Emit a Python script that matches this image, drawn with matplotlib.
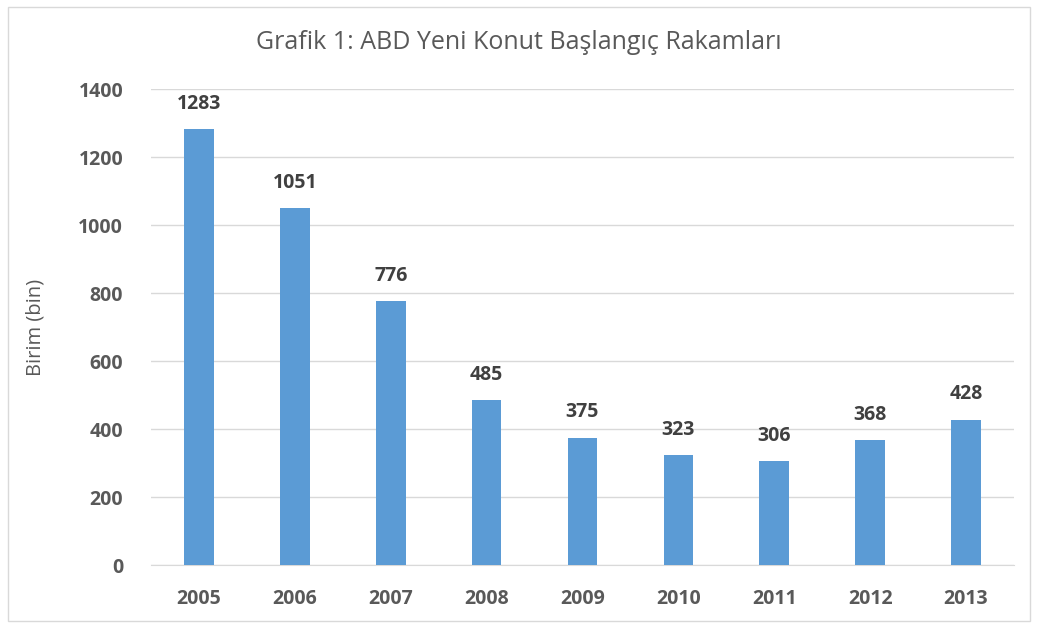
import matplotlib.pyplot as plt
from matplotlib.patches import Rectangle

years = ["2005", "2006", "2007", "2008", "2009", "2010", "2011", "2012", "2013"]
starts = [1283, 1051, 776, 485, 375, 323, 306, 368, 428]
yticks = [0, 200, 400, 600, 800, 1000, 1200, 1400]

plt.rcParams["font.family"] = ["Open Sans", "DejaVu Sans"]

fig = plt.figure(figsize=(10.37, 6.28), dpi=100)
ax = fig.add_axes([0.1456, 0.1003, 0.8322, 0.7577])

# light frame around the whole chart
fig.patches.append(Rectangle((0.008, 0.011), 0.985, 0.978, transform=fig.transFigure,
                             fill=False, edgecolor="#D9D9D9", linewidth=1))

x = range(len(years))
ax.bar(x, starts, width=0.31, color="#5B9BD5", zorder=3)

for xi, v in zip(x, starts):
    ax.text(xi, v + 45, str(v), ha="center", va="bottom", fontsize=14,
            fontweight="bold", color="#404040")

ax.set_xlim(-0.5, len(years) - 0.5)
ax.set_ylim(0, 1400)
ax.set_yticks(yticks)
ax.set_xticks(list(x))
ax.set_xticklabels(years)
ax.grid(axis="y", color="#D9D9D9", linewidth=1, zorder=0)
for s in ["top", "right", "left"]:
    ax.spines[s].set_visible(False)
ax.spines["bottom"].set_color("#D9D9D9")
ax.tick_params(axis="x", length=0, labelsize=14, labelcolor="#595959", pad=17)
ax.tick_params(axis="y", length=0, labelsize=14, labelcolor="#595959", pad=20)
for lab in ax.get_xticklabels() + ax.get_yticklabels():
    lab.set_fontweight("bold")

ax.set_ylabel("Birim (bin)", fontsize=14.5, color="#595959", labelpad=24)
fig.text(0.5, 0.933, "Grafik 1: ABD Yeni Konut Başlangıç Rakamları", ha="center",
         va="center", fontsize=18, color="#595959")

fig.savefig("out.png", dpi=100)
